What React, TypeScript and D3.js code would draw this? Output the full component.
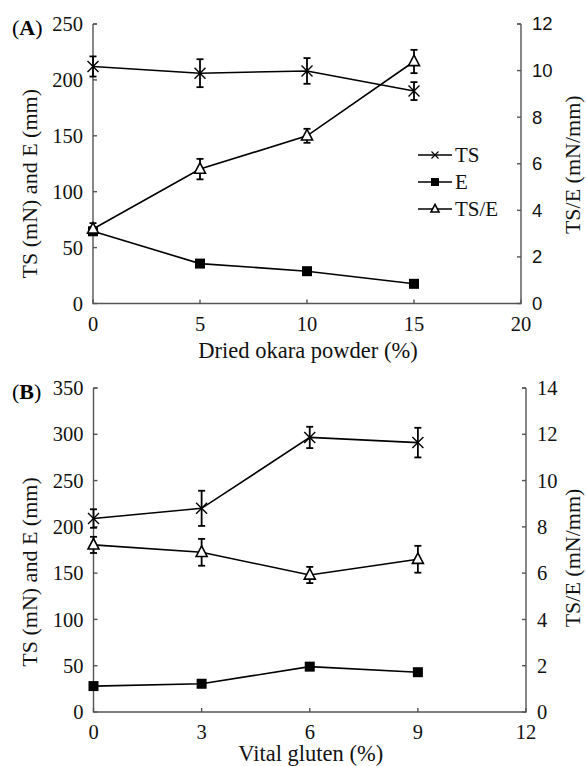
import React from "react";
import * as d3 from "d3";

// Panel A: dried okara powder
const xA = [0, 5, 10, 15];
const tsA = [212, 206, 208, 190];
const tsErrA = [9, 12.5, 11.5, 8];
const eA = [64.6, 35.7, 28.9, 17.6];
const tseA = [3.2, 5.77, 7.2, 10.39];
const tseErrA = [0.25, 0.44, 0.3, 0.5];
const xTicksA = [0, 5, 10, 15, 20];
const yTicksA = [0, 50, 100, 150, 200, 250];
const y2TicksA = [0, 2, 4, 6, 8, 10, 12];

// Panel B: vital gluten
const xB = [0, 3, 6, 9];
const tsB = [209, 220, 296.6, 291];
const tsErrB = [10, 19, 11.5, 16];
const eB = [28, 30.5, 49, 43];
const tseB = [7.22, 6.9, 5.92, 6.6];
const tseErrB = [0.35, 0.58, 0.35, 0.58];
const xTicksB = [0, 3, 6, 9, 12];
const yTicksB = [0, 50, 100, 150, 200, 250, 300, 350];
const y2TicksB = [0, 2, 4, 6, 8, 10, 12, 14];

const SERIF = "Liberation Serif, DejaVu Serif, serif";
const SANS = "Liberation Sans, DejaVu Sans, sans-serif";
const AX = "#555";

type PanelProps = {
  label: string;
  xs: number[];
  ts: number[];
  tsErr: number[];
  e: number[];
  tse: number[];
  tseErr: number[];
  xDomain: [number, number];
  yMax: number;
  y2Max: number;
  xTicks: number[];
  yTicks: number[];
  y2Ticks: number[];
  x0: number;
  x1: number;
  yBottom: number;
  yTop: number;
  xTitle: string;
  xTitleDy: number;
  leftTitleShift: number;
  rightTitleShift: number;
  rightFont: string;
  rightSize: number;
  legend: boolean;
};

function Cross({ x, y, s, w = 1.4 }: { x: number; y: number; s: number; w?: number }) {
  return (
    <path
      d={`M${x - s},${y - s}L${x + s},${y + s}M${x - s},${y + s}L${x + s},${y - s}`}
      stroke="#000"
      strokeWidth={w}
    />
  );
}
function Tri({ x, y, s }: { x: number; y: number; s: number }) {
  return (
    <path
      d={`M${x},${y - s * 1.15}L${x + s},${y + s * 0.75}L${x - s},${y + s * 0.75}Z`}
      fill="#fff"
      stroke="#000"
      strokeWidth={1.6}
    />
  );
}
function Sq({ x, y, s }: { x: number; y: number; s: number }) {
  return <rect x={x - s} y={y - s} width={2 * s} height={2 * s} fill="#000" />;
}
function ErrBar({ x, y1, y2 }: { x: number; y1: number; y2: number }) {
  const c = 3.5;
  return (
    <g stroke="#000" strokeWidth={1.8}>
      <line x1={x} x2={x} y1={y1} y2={y2} />
      <line x1={x - c} x2={x + c} y1={y1} y2={y1} />
      <line x1={x - c} x2={x + c} y1={y2} y2={y2} />
    </g>
  );
}

function Panel(p: PanelProps) {
  const x = d3.scaleLinear().domain(p.xDomain).range([p.x0, p.x1]);
  const y = d3.scaleLinear().domain([0, p.yMax]).range([p.yBottom, p.yTop]);
  const y2 = d3.scaleLinear().domain([0, p.y2Max]).range([p.yBottom, p.yTop]);
  const line = d3.line<[number, number]>().x((d) => d[0]).y((d) => d[1]);
  const tsPts = p.xs.map((v, i) => [x(v), y(p.ts[i])] as [number, number]);
  const ePts = p.xs.map((v, i) => [x(v), y(p.e[i])] as [number, number]);
  const tsePts = p.xs.map((v, i) => [x(v), y2(p.tse[i])] as [number, number]);
  const midY = (p.yBottom + p.yTop) / 2;
  const tk = 4;
  const serif = { fontFamily: SERIF };
  return (
    <g>
      <text x={12} y={p.yTop + 11} style={serif} fontSize={22}>
        (<tspan fontWeight="bold">{p.label}</tspan>)
      </text>
      {/* axes */}
      <g stroke={AX} strokeWidth={1.4} fill="none">
        <path d={`M${p.x0},${p.yTop}V${p.yBottom}H${p.x1}V${p.yTop}`} />
        <line x1={p.x0} x2={p.x0 + tk} y1={p.yTop} y2={p.yTop} />
        <line x1={p.x1} x2={p.x1 - tk} y1={p.yTop} y2={p.yTop} />
        {p.yTicks.map((t) => (
          <line key={"yt" + t} x1={p.x0} x2={p.x0 + tk} y1={y(t)} y2={y(t)} />
        ))}
        {p.y2Ticks.map((t) => (
          <line key={"y2t" + t} x1={p.x1} x2={p.x1 - tk} y1={y2(t)} y2={y2(t)} />
        ))}
        {p.xTicks.map((t) => (
          <line key={"xt" + t} x1={x(t)} x2={x(t)} y1={p.yBottom} y2={p.yBottom - tk} />
        ))}
      </g>
      {/* tick labels */}
      <g style={serif} fontSize={20.5} fill="#111">
        {p.yTicks.map((t) => (
          <text key={"yl" + t} x={p.x0 - 10} y={y(t)} dy="0.35em" textAnchor="end">
            {t}
          </text>
        ))}
        {p.xTicks.map((t) => (
          <text key={"xl" + t} x={x(t)} y={p.yBottom + 27} textAnchor="middle">
            {t}
          </text>
        ))}
      </g>
      <g style={{ fontFamily: p.rightFont }} fontSize={p.rightSize} fill="#111">
        {p.y2Ticks.map((t) => (
          <text key={"y2l" + t} x={p.x1 + 11} y={y2(t)} dy="0.35em" textAnchor="start">
            {t}
          </text>
        ))}
      </g>
      {/* titles */}
      <text
        transform={`translate(37,${midY + p.leftTitleShift}) rotate(-90)`}
        textAnchor="middle"
        style={serif}
        fontSize={22}
        fill="#111"
      >
        TS (mN) and E (mm)
      </text>
      <text
        transform={`translate(580,${midY + p.rightTitleShift}) rotate(-90)`}
        textAnchor="middle"
        style={serif}
        fontSize={22}
        fill="#111"
      >
        TS/E (mN/mm)
      </text>
      <text
        x={(p.x0 + p.x1) / 2 + 1}
        y={p.yBottom + p.xTitleDy}
        textAnchor="middle"
        style={serif}
        fontSize={22.5}
        fill="#111"
      >
        {p.xTitle}
      </text>
      {/* lines */}
      <g fill="none" stroke="#000" strokeWidth={1.6}>
        <path d={line(ePts) || ""} />
        <path d={line(tsPts) || ""} />
        <path d={line(tsePts) || ""} />
      </g>
      {/* error bars */}
      {p.xs.map((v, i) => (
        <ErrBar key={"ets" + i} x={x(v)} y1={y(p.ts[i] + p.tsErr[i])} y2={y(p.ts[i] - p.tsErr[i])} />
      ))}
      {p.xs.map((v, i) => (
        <ErrBar
          key={"etse" + i}
          x={x(v)}
          y1={y2(p.tse[i] + p.tseErr[i])}
          y2={y2(p.tse[i] - p.tseErr[i])}
        />
      ))}
      {/* markers */}
      {ePts.map((d, i) => (
        <Sq key={"sq" + i} x={d[0]} y={d[1]} s={5} />
      ))}
      {tsPts.map((d, i) => (
        <Cross key={"cr" + i} x={d[0]} y={d[1]} s={5.5} />
      ))}
      {tsePts.map((d, i) => (
        <Tri key={"tr" + i} x={d[0]} y={d[1]} s={5.5} />
      ))}
      {p.legend && (
        <g>
          {[
            { name: "TS", kind: "x" },
            { name: "E", kind: "s" },
            { name: "TS/E", kind: "t" },
          ].map((it, i) => {
            const ly = 155 + i * 27;
            const lx0 = 418;
            const lx1 = 452;
            const cx = (lx0 + lx1) / 2;
            return (
              <g key={it.name}>
                <line x1={lx0} x2={lx1} y1={ly} y2={ly} stroke="#000" strokeWidth={1.4} />
                {it.kind === "x" && <Cross x={cx} y={ly} s={3.5} w={1.1} />}
                {it.kind === "s" && <Sq x={cx} y={ly} s={4} />}
                {it.kind === "t" && <Tri x={cx} y={ly} s={4} />}
                <text x={455} y={ly} dy="0.35em" style={serif} fontSize={21} fill="#111">
                  {it.name}
                </text>
              </g>
            );
          })}
        </g>
      )}
    </g>
  );
}

export default function App() {
  return (
    <svg
      width={586}
      height={766}
      style={{ position: "absolute", left: 0, top: 0, background: "#fff" }}
    >
      <rect width={586} height={766} fill="#fff" />
      <Panel
        label="A"
        xs={xA}
        ts={tsA}
        tsErr={tsErrA}
        e={eA}
        tse={tseA}
        tseErr={tseErrA}
        xDomain={[0, 20]}
        yMax={250}
        y2Max={12}
        xTicks={xTicksA}
        yTicks={yTicksA}
        y2Ticks={y2TicksA}
        x0={93}
        x1={521}
        yBottom={303.5}
        yTop={24}
        xTitle="Dried okara powder (%)"
        xTitleDy={54}
        leftTitleShift={20}
        rightTitleShift={1}
        rightFont={SANS}
        rightSize={18.5}
        legend={true}
      />
      <Panel
        label="B"
        xs={xB}
        ts={tsB}
        tsErr={tsErrB}
        e={eB}
        tse={tseB}
        tseErr={tseErrB}
        xDomain={[0, 12]}
        yMax={350}
        y2Max={14}
        xTicks={xTicksB}
        yTicks={yTicksB}
        y2Ticks={y2TicksB}
        x0={93.5}
        x1={526}
        yBottom={712}
        yTop={388}
        xTitle="Vital gluten (%)"
        xTitleDy={49}
        leftTitleShift={22}
        rightTitleShift={8}
        rightFont={SERIF}
        rightSize={20.5}
        legend={false}
      />
    </svg>
  );
}
